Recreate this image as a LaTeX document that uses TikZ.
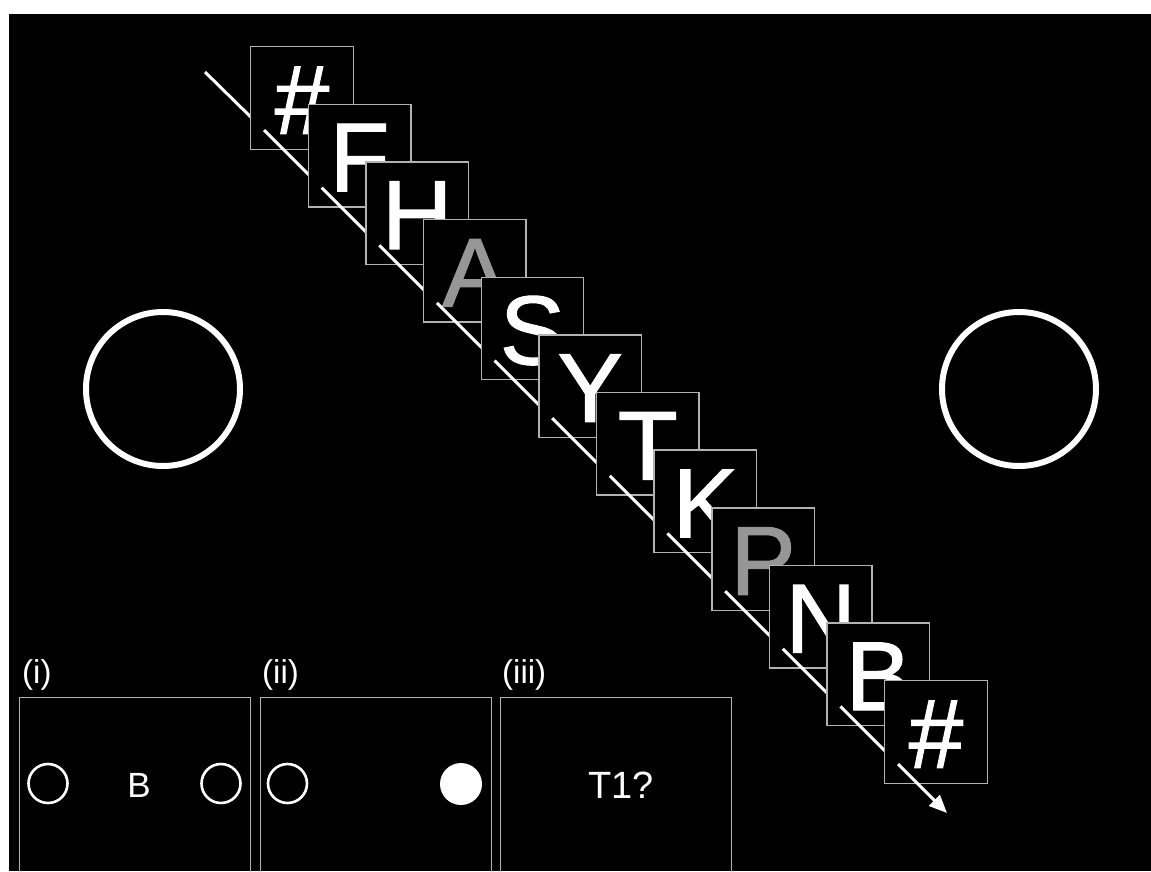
\documentclass[tikz,border=0pt]{standalone}
\usepackage{fontspec}
\setmainfont{Liberation Sans}
\newfontfamily\stimfont{Liberation Sans}[FakeBold=1.2]
\usetikzlibrary{arrows.meta}
\definecolor{framegray}{RGB}{178,178,178}
\definecolor{dimletter}{RGB}{150,150,150}
\tikzset{
  frame/.style={draw=framegray, line width=1.4pt, fill=black, minimum size=102.5pt, inner sep=0pt, anchor=north west},
  bigletter/.style={text=white, font=\stimfont\fontsize{98}{98}\selectfont, inner sep=0pt, anchor=base},
  timeline/.style={draw=white, line width=3pt},
  ring/.style={circle, draw=white, line width=6pt, minimum size=154pt, inner sep=0pt},
  smallring/.style={circle, draw=white, line width=2.6pt, minimum size=39pt, inner sep=0pt},
  dot/.style={circle, fill=white, minimum size=42pt, inner sep=0pt},
  panel/.style={draw=framegray, line width=1.3pt, minimum width=231pt, minimum height=230pt, inner sep=0pt, anchor=north west},
  panellabel/.style={text=white, font=\fontsize{33}{33}\selectfont, inner sep=0pt, anchor=base west},
  paneltext/.style={text=white, inner sep=0pt, anchor=base}
}
\begin{document}
\begin{tikzpicture}[x=1pt,y=-1pt]
\useasboundingbox (0,0) rectangle (1151,871);
\clip (0,0) rectangle (1151,871);
\fill[white] (0,0) rectangle (1151,871);
\fill[black] (9,14) rectangle (1151,871);
% side rings
\node[ring] (leftring) at (163,389) {};
\node[ring] (rightring) at (1019,389) {};
% timeline start
\coordinate (start) at (205,72);
\coordinate (p0) at (264,130);
\draw[timeline] (start) -- (p0);
% stimulus stream
\foreach \i/\l/\c in {0/\#/white,1/F/white,2/H/white,3/A/dimletter,4/S/white,5/Y/white,6/T/white,7/K/white,8/P/dimletter,9/N/white,10/B/white,11/\#/white}{
  \pgfmathsetmacro{\x}{250+57.64*\i}
  \pgfmathsetmacro{\y}{46+57.64*\i}
  \node[frame] (s\i) at (\x,\y) {};
  \node[bigletter, text=\c] (l\i) at ([yshift=-35.75pt]s\i.center) {\l};
  \coordinate (p\i) at (\x+14,\y+84);
  \coordinate (q\i) at (\x+74,\y+144);
  \ifnum\i<11
    \draw[timeline] (p\i) -- (q\i);
  \fi
}
\coordinate (tip) at (947,813);
\draw[timeline, -{Triangle[length=18pt,width=15pt]}] (p11) -- (tip);
% bottom panels
\node[panel] (pa) at (19,697) {};
\node[panel] (pb) at (259.5,697) {};
\node[panel] (pc) at (500,697) {};
\node[panellabel] (la) at (22,683) {(i)};
\node[panellabel] (lb) at (262,683) {(ii)};
\node[panellabel] (lc) at (502,683) {(iii)};
\node[smallring] (a1) at (48,783.5) {};
\node[paneltext, font=\fontsize{35}{35}\selectfont] (ab) at (139,797) {B};
\node[smallring] (a2) at (221,783.5) {};
\node[smallring] (b1) at (287.5,783.5) {};
\node[dot] (b2) at (461,784) {};
\node[paneltext, font=\fontsize{38}{38}\selectfont] (ct) at (621,798) {T1?};
\end{tikzpicture}
\end{document}
